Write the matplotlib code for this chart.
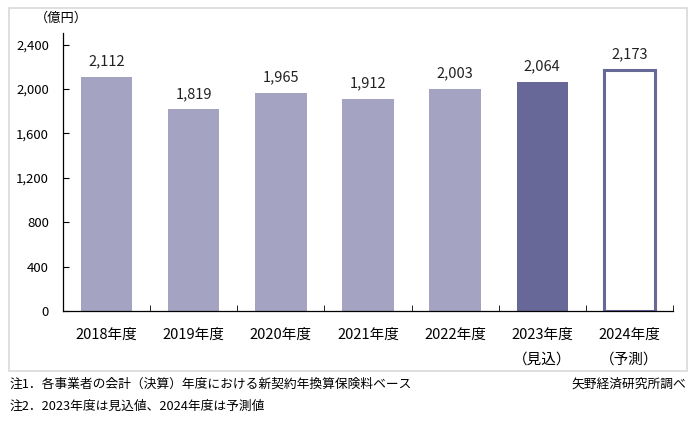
import numpy as np
from matplotlib import pyplot as plt
from matplotlib.patches import Rectangle

plt.rcParams['font.family'] = ['Noto Sans CJK JP', 'DejaVu Sans']

years = ['2018年度', '2019年度', '2020年度', '2021年度', '2022年度', '2023年度\n（見込）', '2024年度\n（予測）']
values = [2112, 1819, 1965, 1912, 2003, 2064, 2173]
yticks = [0, 400, 800, 1200, 1600, 2000, 2400]

light = '#a4a4c2'
dark = '#686898'

fig = plt.figure(figsize=(6.95, 4.43), dpi=100)
ax = fig.add_axes([63/695, 1-311/443, 610/695, 278/443])

x = np.arange(len(values))
cols = [light]*5 + [dark]
ax.bar(x[:6], values[:6], width=0.59, color=cols, zorder=2)
ax.bar(x[6], values[6], width=0.59, color='white', edgecolor=dark, linewidth=2.2, zorder=2)

for xi, v in zip(x, values):
    ax.text(xi, v + 75, f'{v:,}', ha='center', va='bottom', fontsize=10.5, color='#222222')

ax.set_xlim(-0.5, 6.5)
ax.set_ylim(0, 2505)
ax.set_yticks(yticks)
ax.set_yticklabels([f'{t:,}' for t in yticks], fontsize=9.5)
ax.set_xticks(x)
ax.set_xticklabels(years, fontsize=10.5, linespacing=2.0, va='top')
ax.tick_params(axis='x', length=0, pad=12)
ax.tick_params(axis='y', direction='in', length=4, pad=10, color='black')
# boundary ticks on x axis
ax.set_xticks(np.arange(-0.5, 7.0, 1.0), minor=True)
ax.tick_params(axis='x', which='minor', direction='in', length=4)

for s in ['top', 'right']:
    ax.spines[s].set_visible(False)
ax.spines['left'].set_linewidth(0.9)
ax.spines['bottom'].set_linewidth(0.9)

fig.text(35/695, 1-18/443, '（億円）', fontsize=9.5, va='center', ha='left')

# frame around chart
fig.patches.append(Rectangle((9/695, 1-371/443), 678/695, 363/443, transform=fig.transFigure,
                             fill=False, edgecolor='#d9d9d9', linewidth=1.2))

fig.text(10/695, 1-384/443, '注1．各事業者の会計（決算）年度における新契約年換算保険料ベース', fontsize=9.2, va='center')
fig.text(10/695, 1-406/443, '注2．2023年度は見込値、2024年度は予測値', fontsize=9.2, va='center')
fig.text(686/695, 1-384/443, '矢野経済研究所調べ', fontsize=9.2, va='center', ha='right')

plt.savefig('out.png', dpi=100)
